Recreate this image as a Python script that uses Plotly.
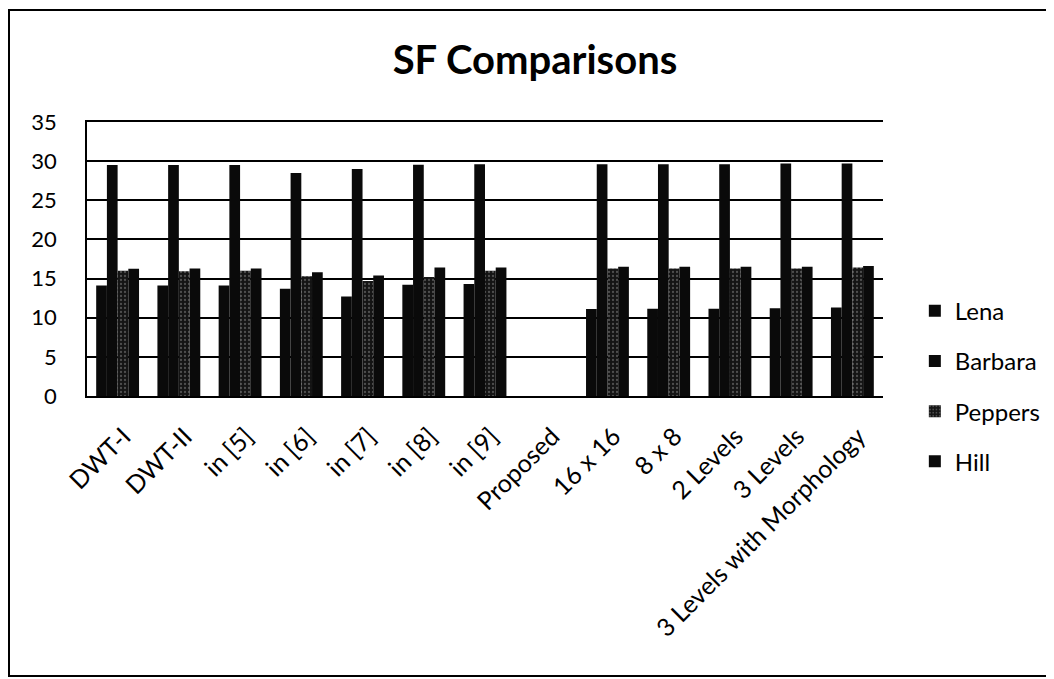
import plotly.graph_objects as go

categories = ["DWT-I", "DWT-II", "in [5]", "in [6]", "in [7]", "in [8]", "in [9]",
              "Proposed", "16 x 16", "8 x 8", "2 Levels", "3 Levels",
              "3 Levels with Morphology"]

lena    = [14.1, 14.1, 14.1, 13.7, 12.7, 14.2, 14.3, None, 11.1, 11.15, 11.15, 11.2, 11.3]
barbara = [29.5, 29.5, 29.5, 28.5, 29.0, 29.55, 29.6, None, 29.6, 29.6, 29.6, 29.7, 29.7]
peppers = [16.0, 15.95, 16.0, 15.3, 14.7, 15.2, 16.0, None, 16.3, 16.3, 16.3, 16.3, 16.4]
hill    = [16.25, 16.3, 16.3, 15.8, 15.4, 16.4, 16.4, None, 16.5, 16.5, 16.5, 16.5, 16.6]

series = [("Lena", lena), ("Barbara", barbara), ("Peppers", peppers), ("Hill", hill)]

fig = go.Figure()
for i, (name, vals) in enumerate(series):
    marker = dict(color="#0a0a0a", line=dict(width=0))
    if name == "Peppers":
        marker = dict(color="#141414", line=dict(width=0),
                      pattern=dict(shape=".", bgcolor="#141414", fgcolor="#8a8a8a",
                                   size=4, solidity=0.25))
    fig.add_trace(go.Bar(name=name, x=categories, y=vals, marker=marker,
                         legendgroup=name))

font_family = "Lato, Open Sans, sans-serif"

# page body has an 8px margin, so the figure is sized to fit the window
W, H = 1046, 671
L, R, T, B = 79, 171, 114, 283
PW, PH = W - L - R, H - T - B

fig.update_layout(
    width=W, height=H,
    paper_bgcolor="white", plot_bgcolor="white",
    barmode="group", bargap=0.3, bargroupgap=0,
    margin=dict(l=L, r=R, t=T, b=B, autoexpand=False),
    title=dict(text="<b>SF Comparisons</b>", x=527 / W, xanchor="center",
               y=1 - 52 / H, yanchor="middle",
               font=dict(family=font_family, size=40, color="black")),
    font=dict(family=font_family, color="black"),
    legend=dict(x=1.04, xanchor="left", y=0.036, yanchor="middle",
                traceorder="grouped", tracegroupgap=16,
                font=dict(family=font_family, size=24, color="black"),
                bgcolor="rgba(0,0,0,0)"),
    showlegend=True,
)
fig.update_xaxes(type="category", tickangle=-45, showline=True, linecolor="black",
                 linewidth=2, mirror=True, ticks="", showgrid=False,
                 ticklabelstandoff=14, ticklabelshift=6,
                 tickfont=dict(family=font_family, size=25, color="black"))
fig.update_yaxes(range=[0, 35], dtick=5, showgrid=True, gridcolor="black",
                 gridwidth=1.5, showline=True, linecolor="black", linewidth=1.5,
                 ticks="", zeroline=False, ticklabelstandoff=24,
                 tickfont=dict(family=font_family, size=22, color="black"))

fig.add_shape(type="rect", xref="paper", yref="paper",
              x0=(1 - L) / PW, x1=(1042 - L) / PW,
              y0=(T + PH - 668) / PH, y1=(T + PH - 2) / PH,
              line=dict(color="black", width=2), fillcolor="rgba(0,0,0,0)")

fig.write_html("out.html")
